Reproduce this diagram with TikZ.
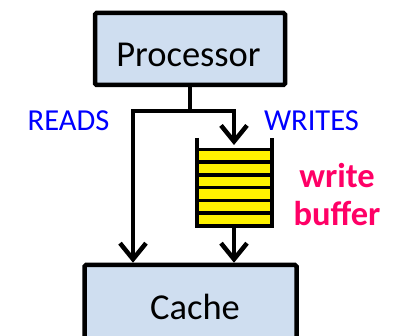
\documentclass[tikz,border=0pt]{standalone}
\usepackage{fontspec}
\setmainfont{Carlito}
\usepackage{xcolor}
\usetikzlibrary{arrows.meta,positioning}
\definecolor{boxblue}{RGB}{207,222,240}
\definecolor{wbpink}{RGB}{255,0,102}

\begin{document}
\begin{tikzpicture}[x=1pt, y=-1pt,
    box/.style={rectangle, draw, line width=4.5pt, rounded corners=1.5pt, fill=boxblue},
    boxtext/.style={font=\fontsize{36.5}{40}\selectfont},
    tag/.style={font=\fontsize{30.5}{34}\selectfont, text=blue},
    slot/.style={draw, line width=3.5pt, fill=yellow},
    wire/.style={line width=4pt},
    arrow/.style={wire, -{Straight Barb[length=16pt,width=26pt,line width=4.5pt]}}
]
    \useasboundingbox (0,0) rectangle (396,336);
    \clip (0,0) rectangle (396,336);

    % Processor
    \node[box, minimum width=190pt, minimum height=72pt] (proc) at (190,49) {};
    \node[boxtext] (proctext) at ([xshift=-1.5pt, yshift=-6pt]proc.center) {Processor};

    % Cache, cut off by the bottom edge
    \node[box, minimum width=212pt, minimum height=90pt] (cache) at (190.5,310) {};
    \node[boxtext] (cachetext) at (195,307) {Cache};

    % Write buffer
    \node[minimum width=75pt, minimum height=88pt, inner sep=0pt, outer sep=0pt] (buf) at (234,182) {};
    \foreach \k in {0,...,5}
        \draw[slot] (196.5,{149.5+12.7*\k}) rectangle (271.5,{162.2+12.7*\k});
    \draw[wire] (buf.north west) -- (buf.south west) -- (buf.south east) -- (buf.north east);

    % Connectors
    \coordinate (split) at (190,111);
    \draw[wire] (proc.south) -- (split);
    \draw[arrow] (split) -| ([xshift=-57.5pt]cache.north);
    \draw[arrow] (split) -| ([yshift=-7pt]buf.north);
    \draw[arrow] (buf.south) -- (buf.south |- cache.north);

    % Labels
    \node[tag] (reads) at (68.5,121) {READS};
    \node[tag] (writes) at (311.5,121) {WRITES};
    \node[font=\bfseries\fontsize{34.5}{38}\selectfont, text=wbpink, align=center] (wblabel) at (337,195) {write\\buffer};
\end{tikzpicture}
\end{document}
